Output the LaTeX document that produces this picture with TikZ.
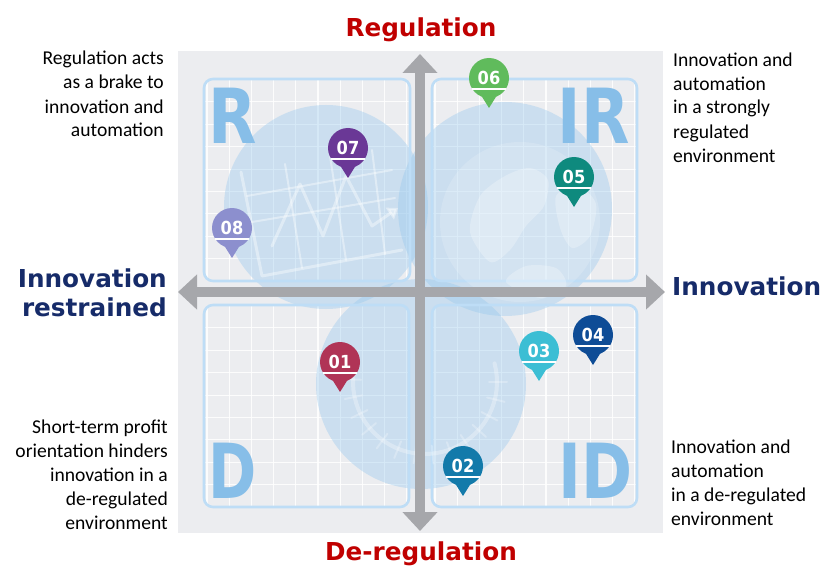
\documentclass[tikz,border=0pt]{standalone}
\usepackage{fontspec}
\setmainfont{Carlito}
\newfontfamily\headfont{DejaVu Sans}
\newfontfamily\numfont{DejaVu Sans Condensed}
\usetikzlibrary{arrows.meta}

\definecolor{panelgray}{RGB}{236,237,240}
\definecolor{axisgray}{RGB}{166,167,171}
\definecolor{boxblue}{RGB}{190,221,246}
\definecolor{bubbleblue}{RGB}{150,200,238}
\definecolor{letterblue}{RGB}{135,190,232}
\definecolor{regred}{RGB}{192,0,0}
\definecolor{innonavy}{RGB}{22,43,105}
\definecolor{pinA}{RGB}{176,52,86}
\definecolor{pinB}{RGB}{19,122,170}
\definecolor{pinC}{RGB}{60,190,212}
\definecolor{pinD}{RGB}{14,76,150}
\definecolor{pinE}{RGB}{14,138,126}
\definecolor{pinF}{RGB}{96,187,92}
\definecolor{pinG}{RGB}{106,56,150}
\definecolor{pinH}{RGB}{140,143,206}

\tikzset{
  gridline/.style={white, line width=1.1pt, opacity=0.85},
  quadframe/.style={draw=boxblue, line width=2.6pt, rounded corners=9pt},
  bubble/.style={fill=bubbleblue, fill opacity=0.38},
  sketch/.style={white, opacity=0.4, line width=3pt, line cap=round, line join=round},
  bigletter/.style={text=letterblue, inner sep=0pt, font=\numfont\bfseries\fontsize{76}{76}\selectfont},
  axisline/.style={draw=axisgray, line width=10pt,
    {Triangle[width=34pt,length=19pt]}-{Triangle[width=34pt,length=19pt]}},
  pinlabel/.style={text=white, inner sep=0pt, font=\numfont\bfseries\fontsize{18}{18}\selectfont},
  headline/.style={inner sep=0pt, font=\headfont\bfseries\fontsize{24.7}{29}\selectfont},
  note/.style={inner sep=0pt, font=\fontsize{19.6}{24}\selectfont},
}

% quadrant frame with its white grid: name, x1, y1, x2, y2
\newcommand\quadpanel[5]{%
  \begin{scope}
    \clip[rounded corners=9pt] (#2,#3) rectangle (#4,#5);
    \foreach \k in {0,...,9} {
      \draw[gridline] (#2+3+\k*22.2,#3) -- (#2+3+\k*22.2,#5);
      \draw[gridline] (#2,#3+0.5+\k*22.4) -- (#4,#3+0.5+\k*22.4);
    }
  \end{scope}
  \coordinate (#1) at ({(#2+#4)/2},{(#3+#5)/2});
}
\newcommand\quadborder[4]{\draw[quadframe] (#1,#2) rectangle (#3,#4);}

% map marker: name, x, y, colour, number
\newcommand\mappin[5]{%
  \begin{scope}[shift={(#2,#3)}]
    \fill[#4] (0,0) circle[radius=20pt];
    \fill[#4] (-10,14) -- (0,30) -- (10,14) -- cycle;
    \draw[white, line width=1.2pt] (-17,11) -- (17,11);
    \node[pinlabel] (#1) at (0,-0.5) {#5};
  \end{scope}}

\begin{document}
\begin{tikzpicture}[x=1pt,y=-1pt]
  \useasboundingbox (0,0) rectangle (830,567);
  \fill[white] (0,0) rectangle (830,567);

  % panel background
  \fill[panelgray] (178,51) rectangle (663,533);

  % quadrant grids
  \quadpanel{qR}{204}{79}{410}{281}
  \quadpanel{qIR}{432}{79}{637}{281}
  \quadpanel{qD}{204}{305}{409}{507}
  \quadpanel{qID}{432}{305}{637}{507}

  % translucent bubbles
  \fill[bubble] (326,207) circle[radius=102pt];
  \fill[bubble] (505,209) circle[radius=107pt];
  \fill[bubble] (421,384) circle[radius=105pt];

  % frames on top of the bubbles
  \quadborder{204}{79}{410}{281}
  \quadborder{432}{79}{637}{281}
  \quadborder{204}{305}{409}{507}
  \quadborder{432}{305}{637}{507}

  % faint chart sketch
  \draw[sketch] (241,172) -- (262,276) -- (402,250);
  \draw[sketch, line width=2pt] (285,164) -- (302,268);
  \draw[sketch, line width=2pt] (330,156) -- (346,260);
  \draw[sketch, line width=2pt] (372,150) -- (385,254);
  \draw[sketch, line width=2pt] (252,222) -- (395,198);
  \draw[sketch, line width=2pt] (247,196) -- (392,170);
  \draw[sketch, -{Triangle[width=14pt,length=10pt]}] (272,246) -- (300,184) -- (323,236) -- (346,176) -- (372,226) -- (398,208);

  % faint globe sketch
  \fill[white, opacity=0.16] (520,222) circle[radius=80pt];
  \fill[white, opacity=0.25] plot[smooth cycle] coordinates {(470,232) (480,196) (505,176) (530,168) (548,180) (544,206) (526,226) (510,250) (490,262)};
  \fill[white, opacity=0.25] plot[smooth cycle] coordinates {(556,196) (578,186) (596,204) (590,236) (572,248) (560,228)};
  \fill[white, opacity=0.25] plot[smooth cycle] coordinates {(506,282) (526,266) (556,268) (566,286) (540,298)};

  % faint wreath sketch
  \draw[sketch, line width=4pt, opacity=0.3] plot[domain=-15:195, samples=40] ({425+72*cos(\x)},{382+72*sin(\x)});
  \foreach \t in {0,14,...,182}
    \draw[sketch, line width=2pt, opacity=0.25] ({425+64*cos(\t)},{382+64*sin(\t)}) -- ({425+82*cos(\t)},{382+82*sin(\t)});

  % quadrant letters
  \node[bigletter, anchor=base west, xscale=0.92] (lR) at (208,143) {R};
  \node[bigletter, anchor=base east, xscale=0.92] (lIR) at (630,143) {IR};
  \node[bigletter, anchor=base west, xscale=0.85] (lD) at (208,498) {D};
  \node[bigletter, anchor=base east, xscale=0.9] (lID) at (633,498) {ID};

  % axes
  \coordinate (vTop) at (420,54);
  \coordinate (vBot) at (420,531);
  \coordinate (hLeft) at (178,292);
  \coordinate (hRight) at (665,292);
  \draw[axisline] (vBot) -- (vTop);
  \draw[axisline] (hLeft) -- (hRight);

  % markers
  \mappin{p01}{340}{362}{pinA}{01}
  \mappin{p02}{463}{466}{pinB}{02}
  \mappin{p03}{539}{351}{pinC}{03}
  \mappin{p04}{593}{335}{pinD}{04}
  \mappin{p05}{574}{177}{pinE}{05}
  \mappin{p06}{489}{78}{pinF}{06}
  \mappin{p07}{348}{148}{pinG}{07}
  \mappin{p08}{232}{228}{pinH}{08}

  % axis captions (multi-line nodes are anchored at their last baseline)
  \node[headline, text=regred, anchor=base] (capReg) at (421,37) {Regulation};
  \node[headline, text=regred, anchor=base] (capDereg) at (421,560) {De-regulation};
  \node[headline, text=innonavy, anchor=base east, align=right] (capRestr) at (167,316.5) {Innovation\\restrained};
  \node[headline, text=innonavy, anchor=base west] (capInno) at (672,295) {Innovation};

  % quadrant notes
  \node[note, anchor=base east, align=right] (nR) at (164,137) {Regulation acts\\as a brake to\\innovation and\\automation};
  \node[note, anchor=base west, align=left] (nIR) at (673,162) {Innovation and\\automation\\in a strongly\\regulated\\environment};
  \node[note, anchor=base east, align=right] (nD) at (168,529) {Short-term profit\\orientation hinders\\innovation in a\\de-regulated\\environment};
  \node[note, anchor=base west, align=left] (nID) at (671,525) {Innovation and\\automation\\in a de-regulated\\environment};
\end{tikzpicture}
\end{document}
